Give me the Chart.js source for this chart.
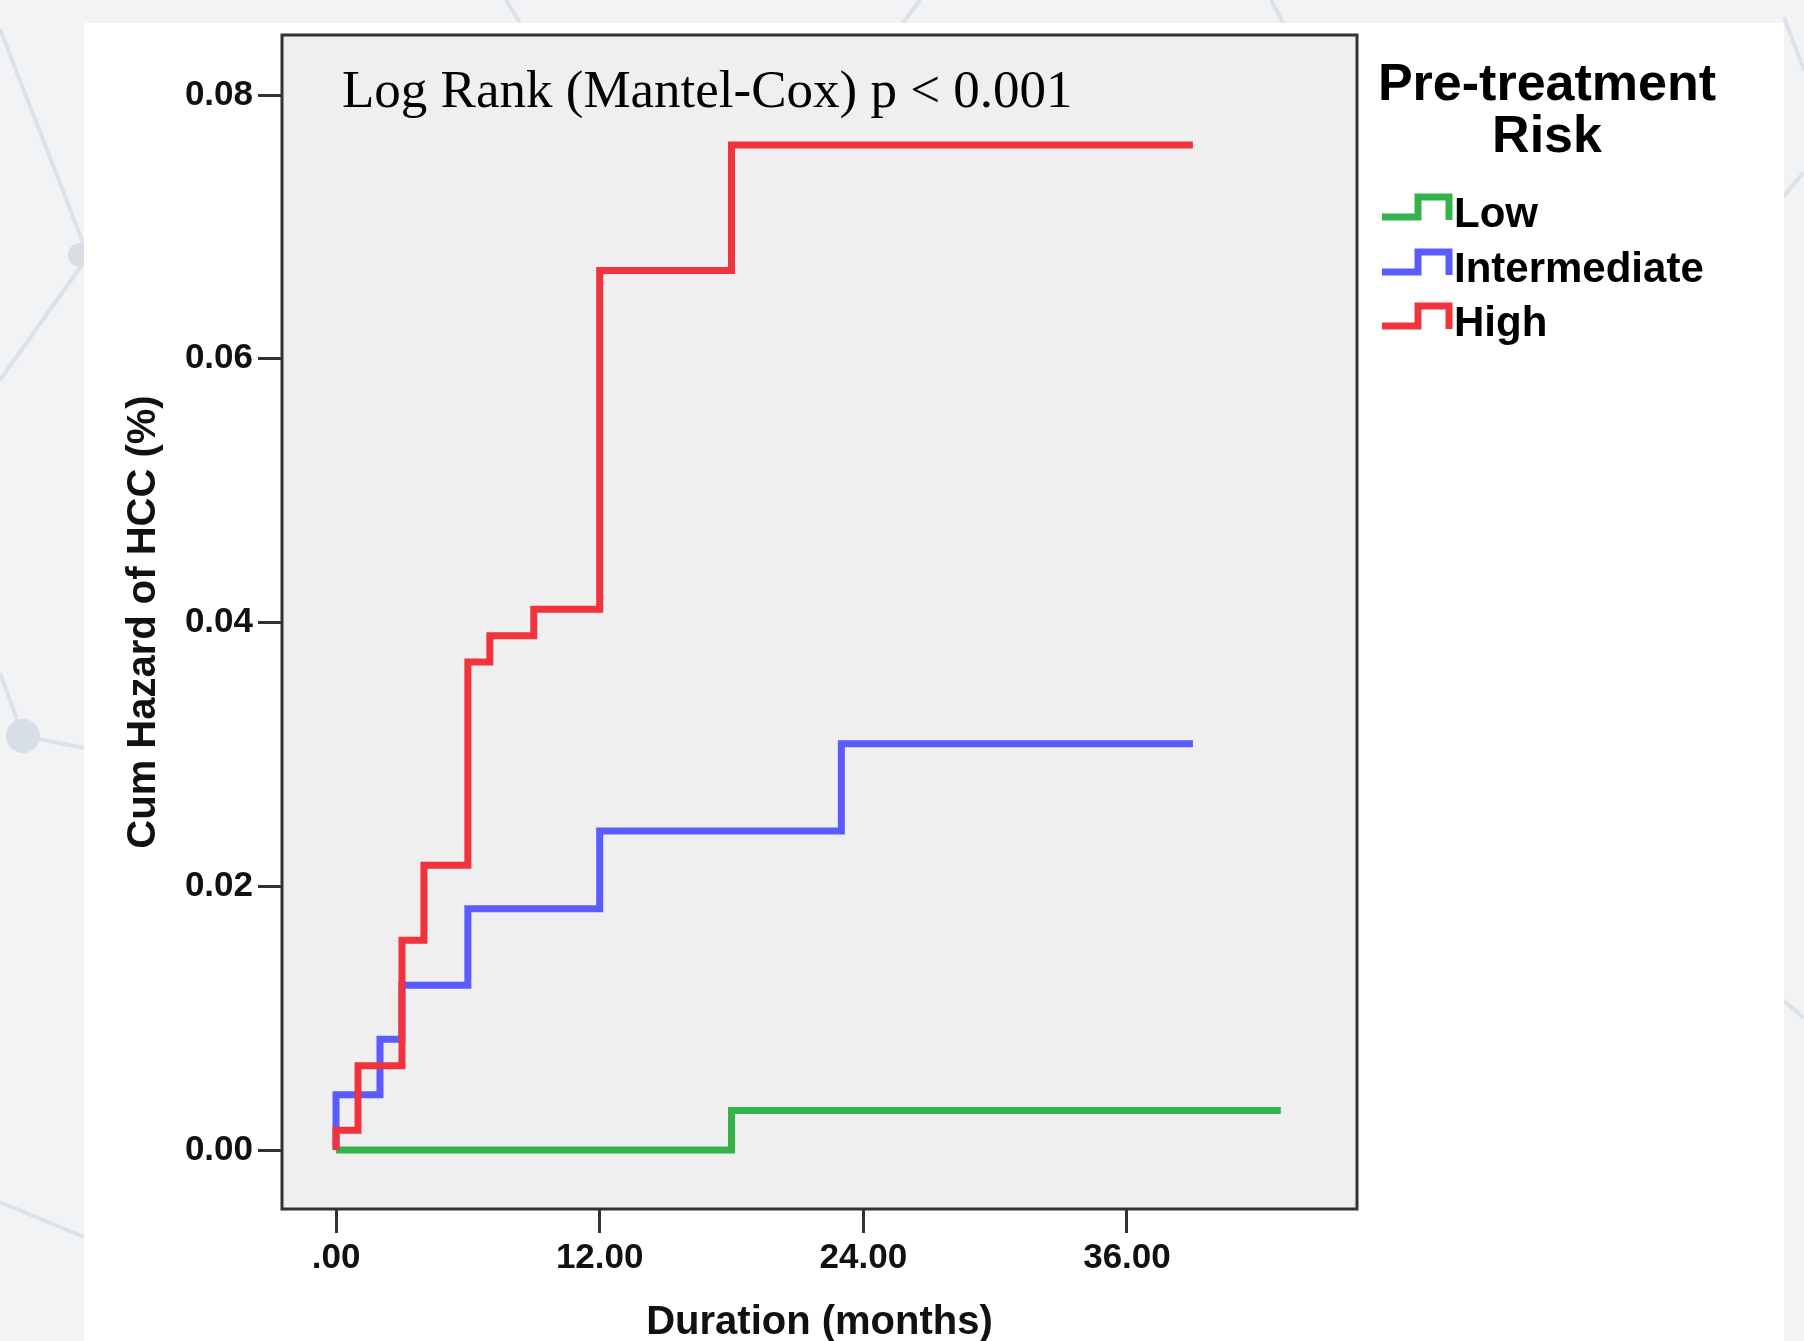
<!DOCTYPE html>
<html lang="en">
<head>
    <meta charset="UTF-8">
    <title>Cum Hazard of HCC by Pre-treatment Risk</title>
    <style>
        html, body {
            margin: 0;
            padding: 0;
            width: 1804px;
            height: 1341px;
            overflow: hidden;
            background: #f2f3f4;
        }
        #bg {
            position: absolute;
            left: 0;
            top: 0;
        }
        .card {
            position: absolute;
            left: 84px;
            top: 23px;
            width: 1700px;
            height: 1318px;
            background: #ffffff;
        }
        #chart {
            position: absolute;
            left: 0;
            top: 0;
        }
        .note {
            position: absolute;
            left: 342px;
            top: 63px;
            font-family: "Liberation Serif", "Times New Roman", serif;
            font-size: 53px;
            line-height: 53px;
            color: #000;
            white-space: nowrap;
        }
        .legend-title {
            position: absolute;
            left: 1347px;
            width: 400px;
            top: 56px;
            text-align: center;
            font-family: "Liberation Sans", Arial, sans-serif;
            font-weight: bold;
            font-size: 52px;
            line-height: 52px;
            color: #000;
        }
        .legend-item {
            position: absolute;
            left: 1379px;
            height: 42px;
        }
        .legend-item svg {
            position: absolute;
            left: 0;
            top: 0;
        }
        .legend-item span {
            position: absolute;
            left: 75px;
            top: 0;
            font-family: "Liberation Sans", Arial, sans-serif;
            font-weight: bold;
            font-size: 42px;
            line-height: 42px;
            color: #000;
            white-space: nowrap;
        }
    </style>
    <script src="https://cdn.jsdelivr.net/npm/chart.js"></script>
</head>
<body>
    <svg id="bg" width="1804" height="1341">
        <g stroke="#dde2e8" stroke-width="4" fill="none">
            <line x1="0" y1="29" x2="84" y2="245"/>
            <line x1="84" y1="262" x2="0" y2="380"/>
            <line x1="0" y1="673" x2="23" y2="736"/>
            <line x1="23" y1="736" x2="84" y2="748"/>
            <line x1="0" y1="1202" x2="84" y2="1237"/>
            <line x1="506" y1="0" x2="520" y2="23"/>
            <line x1="920" y1="0" x2="903" y2="23"/>
            <line x1="1271" y1="0" x2="1283" y2="23"/>
            <line x1="1784" y1="17" x2="1804" y2="70"/>
            <line x1="1784" y1="196" x2="1804" y2="172"/>
            <line x1="1784" y1="1001" x2="1804" y2="1018"/>
        </g>
        <circle cx="23" cy="736" r="17" fill="#d8dee6"/>
        <circle cx="80" cy="255" r="12" fill="#d8dee6"/>
    </svg>
    <div class="card"></div>
    <canvas id="chart" width="1804" height="1341"></canvas>

    <div class="note">Log Rank (Mantel-Cox) p &lt; 0.001</div>
    <div class="legend-title">Pre-treatment<br>Risk</div>
    <div id="legend"></div>

    <script>
        // Pre-treatment risk groups (legend order)
        const groupNames = ['Low', 'Intermediate', 'High'];
        const groupColors = ['#33b34a', '#5a5cff', '#f0333d'];

        // step curves: event time (months) and cumulative hazard after it
        const lowTimes = [0, 18, 43];
        const lowHazard = [0, 0.003, 0.003];

        const intTimes = [0, 0, 2, 3, 6, 12, 23, 39];
        const intHazard = [0, 0.0042, 0.0084, 0.0125, 0.0183, 0.0242, 0.0308, 0.0308];

        const highTimes = [0, 0, 1, 3, 4, 6, 7, 9, 12, 18, 39];
        const highHazard = [0, 0.0015, 0.0064, 0.0159, 0.0216, 0.037, 0.039, 0.041, 0.0667, 0.0762, 0.0762];

        // axis ticks
        const xTickValues = [0, 12, 24, 36];
        const xTickLabels = ['.00', '12.00', '24.00', '36.00'];
        const yTickValues = [0, 0.02, 0.04, 0.06, 0.08];
        const yTickLabels = ['0.00', '0.02', '0.04', '0.06', '0.08'];

        function toPoints(times, values) {
            return times.map((t, i) => ({ x: t, y: values[i] }));
        }

        const tickFont = "'Liberation Sans', Arial, sans-serif";

        // plot background and frame, as in SPSS output
        const framePlugin = {
            id: 'frame',
            beforeDatasetsDraw(chart) {
                const { ctx, chartArea: a } = chart;
                ctx.save();
                ctx.fillStyle = '#efefef';
                ctx.fillRect(a.left, a.top, a.right - a.left, a.bottom - a.top);
                ctx.restore();
            },
            afterDatasetsDraw(chart) {
                const { ctx, chartArea: a } = chart;
                ctx.save();
                ctx.strokeStyle = '#333333';
                ctx.lineWidth = 3;
                ctx.strokeRect(a.left, a.top, a.right - a.left, a.bottom - a.top);
                ctx.restore();
            }
        };

        const seriesTimes = [lowTimes, intTimes, highTimes];
        const seriesHazard = [lowHazard, intHazard, highHazard];

        const datasets = groupNames.map((name, i) => ({
            label: name,
            data: toPoints(seriesTimes[i], seriesHazard[i]),
            borderColor: groupColors[i],
            backgroundColor: groupColors[i],
            borderWidth: 7,
            borderJoinStyle: 'miter',
            borderCapStyle: 'butt',
            pointRadius: 0,
            stepped: true,
            fill: false,
            order: 3 - i
        }));

        new Chart(document.getElementById('chart'), {
            type: 'line',
            data: { datasets: datasets },
            options: {
                responsive: false,
                animation: false,
                devicePixelRatio: 1,
                layout: {
                    padding: { left: 0, top: 35, right: 447, bottom: 0 }
                },
                plugins: {
                    legend: { display: false },
                    tooltip: { enabled: false }
                },
                scales: {
                    x: {
                        type: 'linear',
                        min: -2.46,
                        max: 46.47,
                        afterBuildTicks(scale) {
                            scale.ticks = xTickValues.map(v => ({ value: v }));
                        },
                        afterFit(scale) {
                            scale.height = 132;
                        },
                        ticks: {
                            padding: 4,
                            color: '#111',
                            font: { family: tickFont, size: 35, weight: 'bold' },
                            callback: (value, index) => xTickLabels[index]
                        },
                        grid: {
                            drawOnChartArea: false,
                            drawTicks: true,
                            tickLength: 24,
                            tickWidth: 3,
                            tickColor: '#333'
                        },
                        border: { display: false },
                        title: {
                            display: true,
                            text: 'Duration (months)',
                            color: '#111',
                            padding: { top: 0, bottom: 0 },
                            font: { family: "'Liberation Sans', Arial, sans-serif", size: 40, weight: 'bold', lineHeight: 0.9 }
                        }
                    },
                    y: {
                        type: 'linear',
                        min: -0.00447,
                        max: 0.08455,
                        afterBuildTicks(scale) {
                            scale.ticks = yTickValues.map(v => ({ value: v }));
                        },
                        afterFit(scale) {
                            scale.width = 282;
                        },
                        ticks: {
                            padding: 5,
                            color: '#111',
                            font: { family: tickFont, size: 35, weight: 'bold' },
                            callback: (value, index) => yTickLabels[index]
                        },
                        grid: {
                            drawOnChartArea: false,
                            drawTicks: true,
                            tickLength: 24,
                            tickWidth: 3,
                            tickColor: '#333'
                        },
                        border: { display: false },
                        title: {
                            display: true,
                            text: 'Cum Hazard of HCC (%)',
                            color: '#111',
                            padding: { top: 120, bottom: 0 },
                            font: { family: "'Liberation Sans', Arial, sans-serif", size: 40, weight: 'bold', lineHeight: 1.2 }
                        }
                    }
                }
            },
            plugins: [framePlugin]
        });

        // legend with little step icons
        const legendRows = [213, 268, 322];
        const legendBox = document.getElementById('legend');
        groupNames.forEach((name, i) => {
            const row = document.createElement('div');
            row.className = 'legend-item';
            row.style.top = (legendRows[i] - 21) + 'px';
            row.innerHTML =
                '<svg width="75" height="42"><polyline points="3,25 39,25 39,5 70,5 70,28" ' +
                'fill="none" stroke="' + groupColors[i] + '" stroke-width="7" stroke-linejoin="miter"/></svg>' +
                '<span>' + name + '</span>';
            legendBox.appendChild(row);
        });
    </script>
</body>
</html>
